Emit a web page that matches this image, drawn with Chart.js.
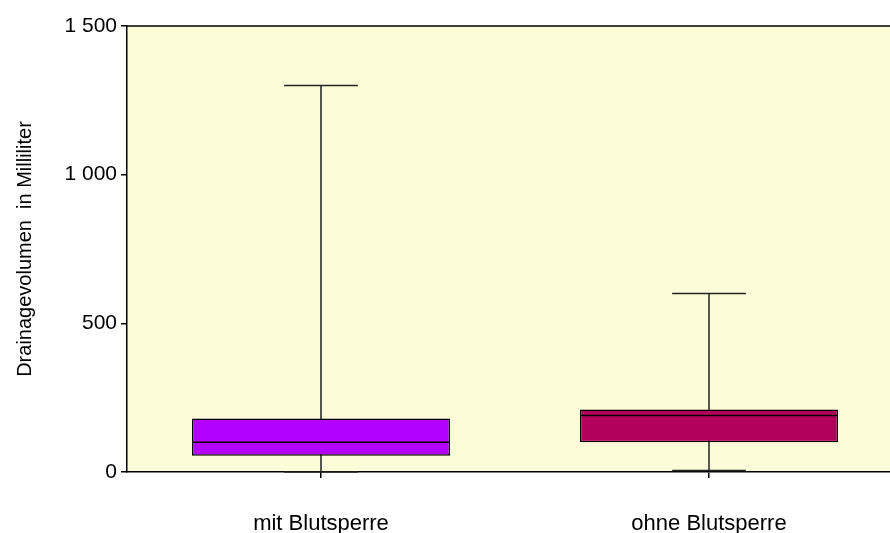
<!DOCTYPE html>
<html>
<head>
<meta charset="utf-8">
<script src="https://cdn.jsdelivr.net/npm/chart.js@4/dist/chart.umd.min.js"></script>
<style>
    html, body { margin: 0; padding: 0; background: #fff; overflow: hidden; }
    #wrap { width: 903px; height: 533px; }
</style>
</head>
<body>
<div id="wrap"><canvas id="grafico-box"></canvas></div>
<script>
// Boxplot Drainagevolumen
const categories = ['mit Blutsperre', 'ohne Blutsperre'];
const minValues = [0, 5];
const q1Values = [55, 100];
const medianValues = [100, 190];
const q3Values = [180, 210];
const maxValues = [1300, 600];
const boxColors = ['#B400FF', '#B3005C'];
const yTicks = [0, 500, 1000, 1500];

function formatNumber(v) {
    return String(v).replace(/\B(?=(\d{3})+(?!\d))/g, ' ');
}

// Hintergrund + obere Linie
const areaPlugin = {
    id: 'area',
    beforeDraw(chart) {
        const a = chart.chartArea;
        const ctx = chart.ctx;
        ctx.save();
        ctx.fillStyle = '#FCFCD8';
        ctx.fillRect(a.left, a.top, a.right - a.left, a.bottom - a.top);
        ctx.strokeStyle = '#000';
        ctx.lineWidth = 1.5;
        ctx.beginPath();
        ctx.moveTo(a.left, a.top);
        ctx.lineTo(a.right, a.top);
        ctx.stroke();
        ctx.restore();
    }
};

// Whisker (hinter der Box) und Median (auf der Box)
const whiskerPlugin = {
    id: 'whisker',
    beforeDatasetsDraw(chart) {
        const x = chart.scales.x, y = chart.scales.y, ctx = chart.ctx;
        const capHalf = (x.getPixelForValue(1) - x.getPixelForValue(0)) * 0.095;
        ctx.save();
        ctx.strokeStyle = '#222';
        ctx.lineWidth = 1.5;
        categories.forEach((c, i) => {
            const cx = x.getPixelForValue(i);
            const yMin = y.getPixelForValue(minValues[i]);
            const yMax = y.getPixelForValue(maxValues[i]);
            ctx.beginPath();
            ctx.moveTo(cx, yMin);
            ctx.lineTo(cx, yMax);
            ctx.moveTo(cx - capHalf, yMax);
            ctx.lineTo(cx + capHalf, yMax);
            ctx.moveTo(cx - capHalf, yMin);
            ctx.lineTo(cx + capHalf, yMin);
            ctx.stroke();
        });
        ctx.restore();
    },
    afterDatasetsDraw(chart) {
        const y = chart.scales.y, ctx = chart.ctx;
        const meta = chart.getDatasetMeta(0);
        ctx.save();
        ctx.strokeStyle = '#000';
        ctx.lineWidth = 1.5;
        meta.data.forEach((bar, i) => {
            const ym = y.getPixelForValue(medianValues[i]);
            ctx.beginPath();
            ctx.moveTo(bar.x - bar.width / 2, ym);
            ctx.lineTo(bar.x + bar.width / 2, ym);
            ctx.stroke();
        });
        ctx.restore();
    }
};

const ctxBox = document.getElementById('grafico-box').getContext('2d');
const boxChart = new Chart(ctxBox, {
    type: 'bar',
    data: {
        labels: categories,
        datasets: [{
            data: q1Values.map((q, i) => [q, q3Values[i]]),
            backgroundColor: boxColors,
            borderColor: '#000',
            borderWidth: 1.5,
            borderSkipped: false,
            barPercentage: 0.665,
            categoryPercentage: 1
        }]
    },
    options: {
        responsive: true,
        maintainAspectRatio: false,
        animation: false,
        layout: { padding: { top: 26, right: 0, left: 0, bottom: 0 } },
        plugins: {
            legend: { display: false },
            tooltip: { enabled: false }
        },
        scales: {
            x: {
                afterFit(scale) { scale.height = 61; },
                grid: {
                    offset: false,
                    drawOnChartArea: false,
                    drawTicks: true,
                    tickLength: 6,
                    color: '#000',
                    lineWidth: 1.5
                },
                border: { color: '#000', width: 1.5 },
                ticks: {
                    color: '#000',
                    padding: 33,
                    font: { family: 'Liberation Sans, Arial', size: 22 }
                }
            },
            y: {
                min: 0,
                max: 1500,
                afterFit(scale) { scale.width = 127; },
                afterBuildTicks(scale) { scale.ticks = yTicks.map(v => ({ value: v })); },
                grid: {
                    drawOnChartArea: false,
                    drawTicks: true,
                    tickLength: 6,
                    color: '#000',
                    lineWidth: 1.5
                },
                border: { color: '#000', width: 1.5 },
                ticks: {
                    color: '#000',
                    padding: 4,
                    font: { family: 'Liberation Sans, Arial', size: 21 },
                    callback: (v) => formatNumber(v)
                },
                title: {
                    display: true,
                    text: 'Drainagevolumen  in Milliliter',
                    color: '#000',
                    padding: { top: 13, bottom: 0 },
                    font: { family: 'Liberation Sans, Arial', size: 20 }
                }
            }
        }
    },
    plugins: [areaPlugin, whiskerPlugin]
});
</script>
</body>
</html>
